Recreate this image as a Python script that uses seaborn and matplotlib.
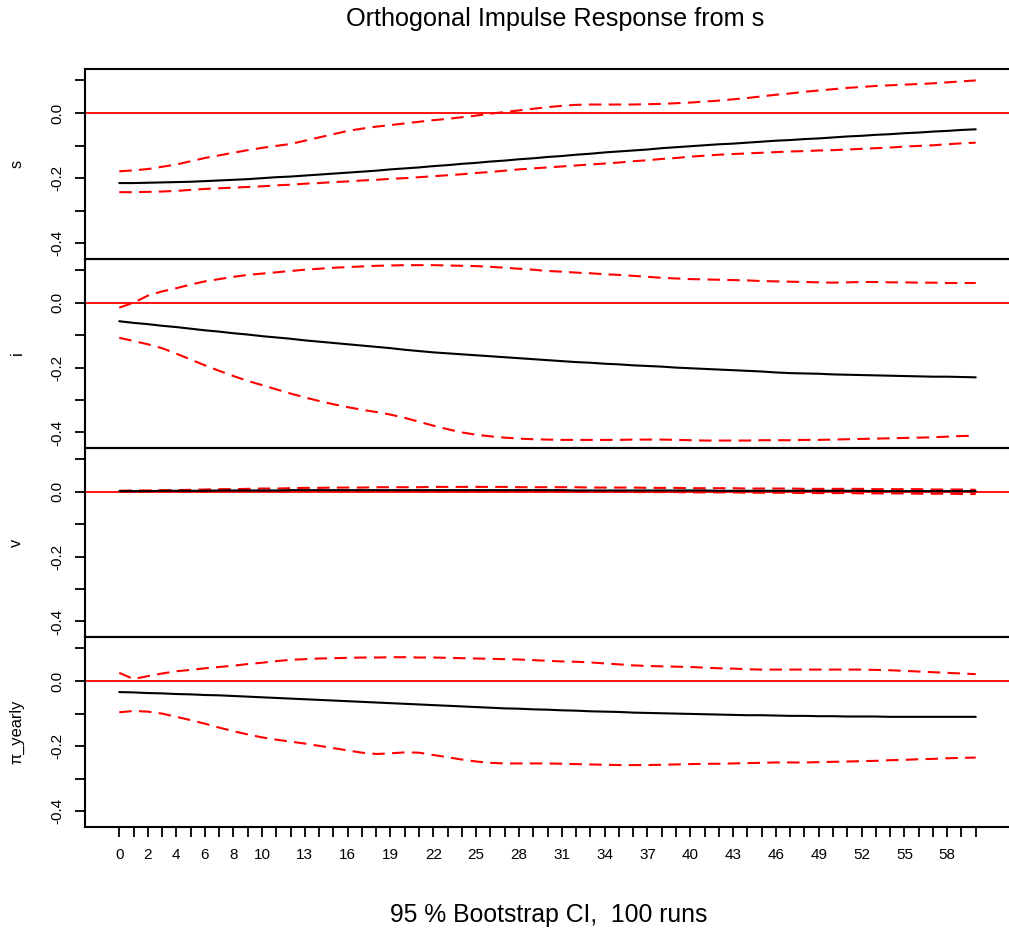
import numpy as np
import pandas as pd
import matplotlib
matplotlib.use("Agg")
import matplotlib.pyplot as plt
import seaborn as sns

# ---------------- data ----------------
steps = list(range(61))
panel_names = ["s", "i", "v", "π_yearly"]
xtick_shown = [0, 2, 4, 6, 8, 10, 13, 16, 19, 22, 25, 28, 31, 34, 37, 40, 43, 46, 49, 52, 55, 58]

s_resp = [-0.215, -0.215, -0.214, -0.213, -0.212, -0.211, -0.209, -0.207, -0.205, -0.203,
          -0.200, -0.197, -0.195, -0.192, -0.189, -0.186, -0.183, -0.180, -0.177, -0.173,
          -0.170, -0.167, -0.163, -0.160, -0.156, -0.153, -0.149, -0.146, -0.142, -0.139,
          -0.135, -0.132, -0.128, -0.125, -0.121, -0.118, -0.115, -0.112, -0.108, -0.105,
          -0.102, -0.099, -0.096, -0.094, -0.091, -0.088, -0.085, -0.083, -0.080, -0.078,
          -0.075, -0.072, -0.070, -0.067, -0.065, -0.062, -0.060, -0.057, -0.055, -0.052,
          -0.050]
s_upper = [-0.179, -0.176, -0.172, -0.165, -0.158, -0.148, -0.138, -0.130, -0.122, -0.114,
           -0.107, -0.101, -0.095, -0.085, -0.075, -0.065, -0.055, -0.048, -0.042, -0.037,
           -0.032, -0.027, -0.022, -0.018, -0.013, -0.008, -0.002, 0.003, 0.008, 0.013,
           0.018, 0.022, 0.025, 0.026, 0.026, 0.026, 0.026, 0.027, 0.028, 0.030,
           0.032, 0.035, 0.038, 0.042, 0.046, 0.051, 0.056, 0.060, 0.065, 0.069,
           0.073, 0.077, 0.080, 0.083, 0.085, 0.087, 0.089, 0.091, 0.094, 0.097,
           0.100]
s_lower = [-0.243, -0.243, -0.242, -0.241, -0.239, -0.236, -0.233, -0.231, -0.229, -0.227,
           -0.225, -0.222, -0.220, -0.217, -0.215, -0.212, -0.210, -0.207, -0.205, -0.202,
           -0.200, -0.197, -0.194, -0.191, -0.188, -0.184, -0.181, -0.177, -0.173, -0.170,
           -0.167, -0.164, -0.161, -0.158, -0.155, -0.152, -0.148, -0.145, -0.141, -0.138,
           -0.134, -0.131, -0.128, -0.126, -0.124, -0.122, -0.120, -0.118, -0.117, -0.115,
           -0.114, -0.112, -0.110, -0.108, -0.106, -0.103, -0.101, -0.099, -0.096, -0.093,
           -0.091]

i_resp = [-0.057, -0.062, -0.066, -0.071, -0.075, -0.080, -0.085, -0.089, -0.094, -0.098,
          -0.103, -0.107, -0.111, -0.116, -0.120, -0.124, -0.128, -0.132, -0.136, -0.140,
          -0.145, -0.149, -0.153, -0.156, -0.159, -0.162, -0.165, -0.168, -0.171, -0.174,
          -0.177, -0.180, -0.183, -0.185, -0.188, -0.190, -0.193, -0.195, -0.197, -0.200,
          -0.202, -0.204, -0.206, -0.208, -0.210, -0.212, -0.215, -0.217, -0.218, -0.219,
          -0.221, -0.222, -0.223, -0.224, -0.225, -0.226, -0.227, -0.228, -0.228, -0.229,
          -0.230]
i_upper = [-0.015, 0.000, 0.022, 0.035, 0.045, 0.056, 0.066, 0.073, 0.080, 0.086,
           0.090, 0.094, 0.098, 0.102, 0.105, 0.108, 0.110, 0.112, 0.114, 0.115,
           0.116, 0.116, 0.116, 0.115, 0.114, 0.113, 0.111, 0.108, 0.105, 0.102,
           0.098, 0.096, 0.093, 0.091, 0.088, 0.086, 0.083, 0.080, 0.077, 0.075,
           0.073, 0.072, 0.071, 0.070, 0.069, 0.067, 0.066, 0.065, 0.064, 0.063,
           0.062, 0.063, 0.064, 0.064, 0.063, 0.063, 0.062, 0.062, 0.061, 0.061,
           0.061]
i_lower = [-0.108, -0.118, -0.128, -0.140, -0.157, -0.175, -0.193, -0.210, -0.226, -0.241,
           -0.254, -0.267, -0.280, -0.292, -0.303, -0.313, -0.322, -0.330, -0.337, -0.345,
           -0.355, -0.367, -0.379, -0.390, -0.400, -0.407, -0.412, -0.416, -0.419, -0.421,
           -0.422, -0.423, -0.423, -0.423, -0.423, -0.423, -0.422, -0.422, -0.422, -0.423,
           -0.424, -0.425, -0.425, -0.425, -0.425, -0.424, -0.424, -0.424, -0.423, -0.423,
           -0.422, -0.421, -0.420, -0.419, -0.418, -0.417, -0.416, -0.415, -0.413, -0.411,
           -0.410]

v_resp = [0.002, 0.002, 0.002, 0.003, 0.003, 0.003, 0.003, 0.004, 0.004, 0.004,
          0.004, 0.004, 0.005, 0.005, 0.005, 0.005, 0.005, 0.005, 0.005, 0.005,
          0.005, 0.005, 0.005, 0.005, 0.005, 0.005, 0.005, 0.005, 0.005, 0.005,
          0.005, 0.005, 0.004, 0.004, 0.004, 0.004, 0.004, 0.004, 0.004, 0.004,
          0.004, 0.004, 0.003, 0.003, 0.003, 0.003, 0.003, 0.003, 0.003, 0.003,
          0.003, 0.003, 0.003, 0.002, 0.002, 0.002, 0.002, 0.002, 0.002, 0.002,
          0.002]
v_upper = [0.003, 0.004, 0.004, 0.005, 0.005, 0.006, 0.007, 0.008, 0.008, 0.009,
           0.010, 0.010, 0.011, 0.012, 0.012, 0.013, 0.013, 0.013, 0.014, 0.014,
           0.014, 0.014, 0.015, 0.015, 0.015, 0.015, 0.015, 0.015, 0.014, 0.014,
           0.014, 0.014, 0.014, 0.013, 0.013, 0.013, 0.013, 0.012, 0.012, 0.012,
           0.011, 0.011, 0.011, 0.011, 0.010, 0.010, 0.010, 0.010, 0.009, 0.009,
           0.009, 0.009, 0.009, 0.008, 0.008, 0.008, 0.008, 0.007, 0.007, 0.007,
           0.006]
v_lower = [0.000, 0.000, 0.001, 0.001, 0.001, 0.001, 0.001, 0.002, 0.002, 0.002,
           0.002, 0.002, 0.002, 0.002, 0.002, 0.002, 0.002, 0.002, 0.002, 0.002,
           0.002, 0.002, 0.002, 0.001, 0.001, 0.001, 0.001, 0.001, 0.001, 0.001,
           0.001, 0.000, 0.000, 0.000, 0.000, 0.000, -0.001, -0.001, -0.001, -0.001,
           -0.002, -0.002, -0.002, -0.002, -0.003, -0.003, -0.003, -0.003, -0.004, -0.004,
           -0.004, -0.004, -0.005, -0.005, -0.005, -0.005, -0.006, -0.006, -0.006, -0.007,
           -0.007]

pi_resp = [-0.034, -0.035, -0.037, -0.038, -0.040, -0.041, -0.043, -0.044, -0.046, -0.048,
           -0.050, -0.052, -0.054, -0.056, -0.058, -0.060, -0.062, -0.064, -0.066, -0.068,
           -0.070, -0.072, -0.074, -0.076, -0.078, -0.080, -0.082, -0.084, -0.085, -0.087,
           -0.088, -0.090, -0.091, -0.093, -0.094, -0.095, -0.097, -0.098, -0.099, -0.100,
           -0.101, -0.102, -0.103, -0.104, -0.105, -0.105, -0.106, -0.107, -0.107, -0.108,
           -0.108, -0.109, -0.109, -0.109, -0.110, -0.110, -0.110, -0.110, -0.110, -0.110,
           -0.110]
pi_upper = [0.025, 0.006, 0.015, 0.023, 0.030, 0.034, 0.039, 0.043, 0.047, 0.052,
            0.056, 0.061, 0.065, 0.067, 0.069, 0.070, 0.071, 0.072, 0.072, 0.073,
            0.073, 0.072, 0.072, 0.071, 0.070, 0.069, 0.068, 0.067, 0.066, 0.064,
            0.062, 0.060, 0.059, 0.057, 0.054, 0.051, 0.048, 0.046, 0.045, 0.044,
            0.043, 0.041, 0.039, 0.038, 0.036, 0.035, 0.035, 0.035, 0.035, 0.035,
            0.035, 0.035, 0.035, 0.034, 0.033, 0.031, 0.029, 0.027, 0.025, 0.023,
            0.021]
pi_lower = [-0.096, -0.092, -0.094, -0.100, -0.110, -0.120, -0.131, -0.143, -0.154, -0.164,
            -0.173, -0.180, -0.186, -0.192, -0.199, -0.206, -0.213, -0.220, -0.224, -0.222,
            -0.219, -0.220, -0.227, -0.234, -0.241, -0.247, -0.251, -0.253, -0.253, -0.253,
            -0.253, -0.254, -0.255, -0.256, -0.257, -0.258, -0.258, -0.258, -0.257, -0.256,
            -0.255, -0.254, -0.254, -0.253, -0.252, -0.251, -0.250, -0.250, -0.250, -0.249,
            -0.248, -0.247, -0.246, -0.245, -0.243, -0.242, -0.240, -0.239, -0.237, -0.236,
            -0.235]

ytick_vals = [0.1, 0.0, -0.1, -0.2, -0.3, -0.4]
ytick_labels = ["", "0.0", "", "-0.2", "", "-0.4"]

panels = [
    (s_resp, s_upper, s_lower),
    (i_resp, i_upper, i_lower),
    (v_resp, v_upper, v_lower),
    (pi_resp, pi_upper, pi_lower),
]

# ---------------- style ----------------
sns.set_style("white")
plt.rcParams["font.family"] = ["Liberation Sans", "DejaVu Sans"]
plt.rcParams["axes.linewidth"] = 1.5
for key in ["text.color", "axes.labelcolor", "xtick.color", "ytick.color", "axes.edgecolor"]:
    plt.rcParams[key] = "black"

W, H = 1009, 934
fig = plt.figure(figsize=(W / 100, H / 100), dpi=100)

bounds = [69, 259, 448, 637, 827]
left_px = 85
tick_font = 11

for k, (resp, up, lo) in enumerate(panels):
    top_px, bot_px = bounds[k], bounds[k + 1]
    ax = fig.add_axes([left_px / W, 1 - bot_px / H, (W - left_px) / W + 0.001, (bot_px - top_px) / H])
    df = pd.DataFrame({"step": steps, "resp": resp, "upper": up, "lower": lo})
    ax.axhline(0, color="#ff0000", lw=1.3, zorder=1)
    sns.lineplot(data=df, x="step", y="resp", ax=ax, color="black", lw=1.5, zorder=3)
    for col in ["upper", "lower"]:
        sns.lineplot(data=df, x="step", y=col, ax=ax, color="#ff0000", lw=1.5,
                     linestyle=(0, (6, 3.5)), zorder=2)
    ax.set_xlim(-2.4, 62.4)
    ax.set_ylim(-0.448, 0.135)
    ax.set_yticks(ytick_vals)
    ax.set_yticklabels(ytick_labels, rotation=90, va="center", fontsize=tick_font)
    ax.tick_params(axis="y", direction="out", length=7, width=1.3, pad=8, left=True, color="black",
                   labelcolor="black")
    ax.set_ylabel(panel_names[k], fontsize=11.8, color="black")
    ax.yaxis.label.set_va("center")
    ax.yaxis.set_label_coords(-(left_px - 17) / (W - left_px), 0.5)
    for sp in ["left", "top", "bottom"]:
        ax.spines[sp].set_visible(True)
        ax.spines[sp].set_color("black")
        ax.spines[sp].set_linewidth(1.5)
    ax.spines["right"].set_visible(False)
    ax.set_xlabel("")
    if k < 3:
        ax.set_xticks([])
    else:
        ax.set_xticks(steps)
        ax.set_xticklabels([str(s) if s in xtick_shown else "" for s in steps], fontsize=tick_font)
        ax.tick_params(axis="x", direction="out", length=7, width=1.3, pad=8, bottom=True, color="black",
                       labelcolor="black")
    ax.patch.set_visible(False)

fig.text(0.55, 1 - 19 / H, "Orthogonal Impulse Response from s", ha="center", va="center",
         fontsize=18.2, color="black")
fig.text(0.544, 1 - 915 / H, "95 % Bootstrap CI,  100 runs", ha="center", va="center",
         fontsize=17.8, color="black")

fig.savefig("out.png", dpi=100)
